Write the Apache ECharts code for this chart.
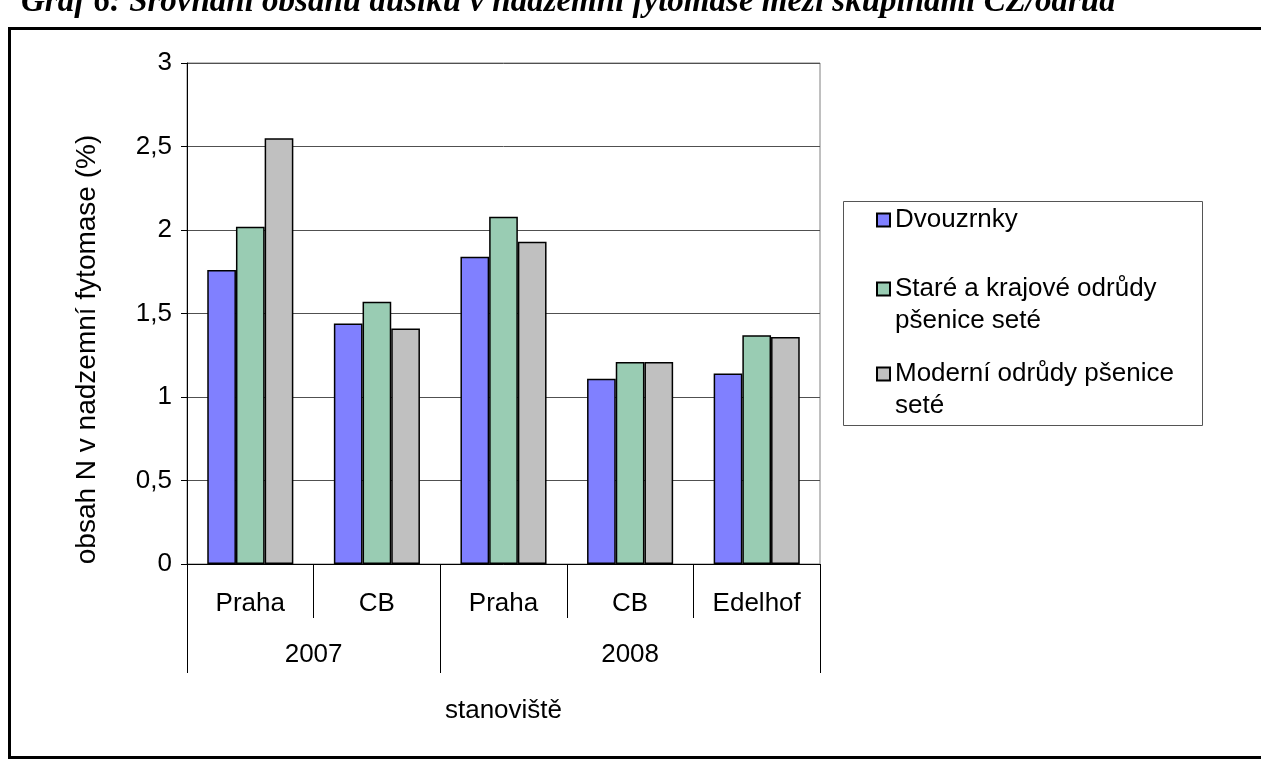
<!DOCTYPE html>
<html>
<head>
<meta charset="utf-8">
<script src="https://cdn.jsdelivr.net/npm/echarts@6/dist/echarts.min.js"></script>
<style>
  html, body { margin: 0; padding: 0; background: #fff; }
  #chart { width: 1261px; height: 762px; }
</style>
</head>
<body>
<div id="chart"></div>
<script>
// Sites (inner axis level) and years (outer level)
const sites = ['Praha', 'CB', 'Praha', 'CB', 'Edelhof'];
const years = ['2007', '2008'];
const sitesPerYear = [2, 3];

// Nitrogen content in above-ground phytomass (%)
const seriesNames = ['Dvouzrnky', 'Staré a krajové odrůdy pšenice seté', 'Moderní odrůdy pšenice seté'];
const legendLines = [
  ['Dvouzrnky'],
  ['Staré a krajové odrůdy', 'pšenice seté'],
  ['Moderní odrůdy pšenice', 'seté']
];
const dvouzrnky = [1.76, 1.44, 1.84, 1.11, 1.14];
const stareOdrudy = [2.02, 1.57, 2.08, 1.21, 1.37];
const moderniOdrudy = [2.55, 1.41, 1.93, 1.21, 1.36];

const titleText = 'Graf 6: Srovnání obsahu dusíku v nadzemní fytomase mezi skupinami CZ/odrůd';
const yName = 'obsah N v nadzemní fytomase (%)';
const xName = 'stanoviště';

// Year group boundaries and centres on a 0..sites.length scale
const yearBounds = [0];
const yearMids = [];
sitesPerYear.forEach((n) => {
  const start = yearBounds[yearBounds.length - 1];
  yearMids.push(start + n / 2);
  yearBounds.push(start + n);
});

const FONT = 'Liberation Sans, Arial, sans-serif';
const FS = 26;
const colors = ['#8080FF', '#99CCB3', '#C0C0C0'];

const chart = echarts.init(document.getElementById('chart'), null, { renderer: 'canvas' });

// One legend block per series; wrapped entries get an empty leading line so the
// swatch sits level with the first line of the label.
function legendFor(i, top) {
  const lines = legendLines[i];
  const text = lines.length > 1 ? '\n' + lines.join('\n') : lines[0];
  return {
    show: true,
    orient: 'vertical',
    left: 876,
    top: top,
    padding: 0,
    itemWidth: 13,
    itemHeight: 13,
    icon: 'rect',
    data: [seriesNames[i]],
    formatter: () => text,
    textStyle: { fontFamily: FONT, fontSize: FS, color: '#000', lineHeight: 32 },
    selectedMode: false
  };
}

const series = [dvouzrnky, stareOdrudy, moderniOdrudy].map((vals, i) => ({
  name: seriesNames[i],
  type: 'bar',
  data: vals,
  barGap: '0%',
  barCategoryGap: '32%',
  itemStyle: { color: colors[i], borderColor: '#000', borderWidth: 1.5 },
  emphasis: { disabled: true }
}));

chart.setOption({
  animation: false,
  backgroundColor: '#fff',
  color: colors,
  grid: {
    left: 187, top: 63, right: 441, bottom: 198,
    show: true, borderColor: '#808080', borderWidth: 1, backgroundColor: 'transparent'
  },
  legend: [legendFor(0, 204), legendFor(1, 241), legendFor(2, 326)],
  xAxis: [
    {
      type: 'category',
      data: sites,
      position: 'bottom',
      axisLine: { lineStyle: { color: '#000', width: 1 } },
      axisTick: { show: true, length: 54, lineStyle: { color: '#000', width: 1 } },
      axisLabel: { fontFamily: FONT, fontSize: FS, color: '#000', margin: 27 },
      name: xName,
      nameLocation: 'middle',
      nameGap: 134,
      nameTextStyle: { fontFamily: FONT, fontSize: FS, color: '#000' },
      splitLine: { show: false }
    },
    {
      type: 'value',
      min: 0,
      max: sites.length,
      position: 'bottom',
      offset: 0,
      axisLine: { show: false },
      axisTick: { show: true, length: 109, customValues: yearBounds, lineStyle: { color: '#000', width: 1 } },
      axisLabel: {
        customValues: yearMids,
        formatter: (v) => years[yearMids.indexOf(v)],
        fontFamily: FONT, fontSize: FS, color: '#000', margin: 78
      },
      splitLine: { show: false }
    }
  ],
  yAxis: {
    type: 'value',
    min: 0,
    max: 3,
    interval: 0.5,
    axisLine: { show: true, lineStyle: { color: '#000', width: 1 } },
    axisTick: { show: true, length: 6, lineStyle: { color: '#000' } },
    axisLabel: {
      fontFamily: FONT, fontSize: FS, color: '#000', margin: 15,
      formatter: (v) => String(v).replace('.', ',')
    },
    splitLine: { show: true, lineStyle: { color: '#505050', width: 1 } },
    name: yName,
    nameLocation: 'middle',
    nameRotate: 90,
    nameGap: 86,
    nameTextStyle: { fontFamily: FONT, fontSize: 28, color: '#000', padding: [0, 72, 0, 0] }
  },
  series: series,
  graphic: [
    {
      type: 'text',
      left: 21,
      top: -14,
      style: {
        text: titleText,
        fontFamily: 'Liberation Serif, Times New Roman, serif',
        fontWeight: 'bold',
        fontStyle: 'italic',
        fontSize: 33,
        fill: '#000'
      },
      z: 10
    },
    {
      type: 'rect',
      shape: { x: 9.5, y: 28.5, width: 1300, height: 729 },
      style: { fill: 'none', stroke: '#000', lineWidth: 3 },
      z: 0
    },
    {
      type: 'rect',
      shape: { x: 843.5, y: 201.5, width: 359, height: 224 },
      style: { fill: 'none', stroke: '#555', lineWidth: 1 },
      z: 0
    }
  ]
});
</script>
</body>
</html>
